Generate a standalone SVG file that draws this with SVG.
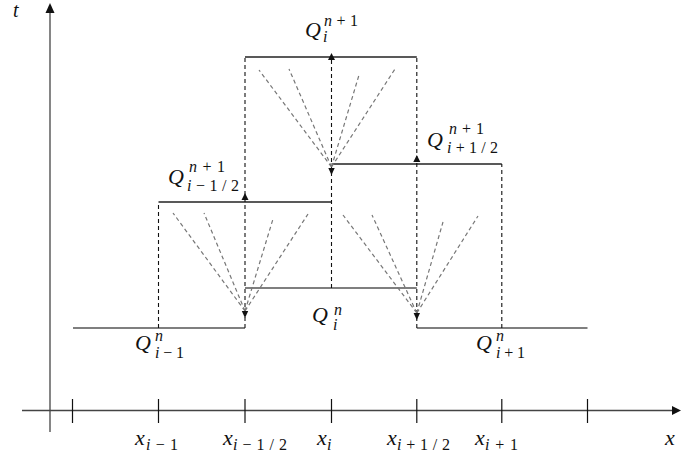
<svg xmlns="http://www.w3.org/2000/svg" width="681" height="457" viewBox="0 0 681 457" font-family="'Liberation Serif', 'DejaVu Serif', serif">
<defs>
<style>
.ax{stroke:#444;stroke-width:1.3;fill:none}
.tk{stroke:#111;stroke-width:1.2}
.lvn{stroke:#555;stroke-width:1.3}
.lv1{stroke:#222;stroke-width:1.3}
.dv{stroke:#111;stroke-width:1.1;stroke-dasharray:4 3;fill:none}
.fan{stroke:#777;stroke-width:1.2;stroke-dasharray:4 3;fill:none}
.ah{fill:#111}
.m{font-size:22px;font-style:italic;fill:#111}
.s{font-size:16px;fill:#111}
.it{font-style:italic}
</style>
</defs>
<rect width="681" height="457" fill="#fff"/>
<g id="axes">
<line class="ax" x1="50" y1="432" x2="50" y2="10"/>
<polygon class="ah" points="50,3 45.5,13 54.5,13" fill="#222"/>
<line class="ax" x1="22" y1="410.5" x2="674" y2="410.5"/>
<polygon class="ah" points="681,410.5 672,406 672,415" fill="#222"/>
<g class="tk">
<line x1="72.5" y1="399" x2="72.5" y2="423"/>
<line x1="158.5" y1="399" x2="158.5" y2="423"/>
<line x1="245" y1="399" x2="245" y2="423"/>
<line x1="331.5" y1="399" x2="331.5" y2="423"/>
<line x1="416.8" y1="399" x2="416.8" y2="423"/>
<line x1="501.8" y1="399" x2="501.8" y2="423"/>
<line x1="587.5" y1="399" x2="587.5" y2="423"/>
</g>
</g>
<g id="levels">
<line class="lvn" x1="73" y1="328" x2="245" y2="328"/>
<line class="lvn" x1="245" y1="288" x2="416.8" y2="288"/>
<line class="lvn" x1="416.8" y1="328" x2="587.5" y2="328"/>
<line class="lv1" x1="158.5" y1="202" x2="331.5" y2="202"/>
<line class="lv1" x1="331.5" y1="164" x2="501.8" y2="164"/>
<line class="lv1" x1="245" y1="57" x2="416.8" y2="57"/>
</g>
<g id="connectors">
<line class="dv" x1="158.5" y1="328" x2="158.5" y2="202"/>
<line class="dv" x1="245" y1="328" x2="245" y2="57"/>
<line class="dv" x1="331.5" y1="288" x2="331.5" y2="57"/>
<line class="dv" x1="416.8" y1="328" x2="416.8" y2="57"/>
<line class="dv" x1="501.8" y1="328" x2="501.8" y2="164"/>
<path class="fan" d="M245,311L173,213M245,311L204,213M245,311L273,219M245,311L308,214"/>
<path class="fan" d="M416.8,313L343,215M416.8,313L372,215M416.8,313L443,222M416.8,313L478,216"/>
<path class="fan" d="M331.5,167L259,70M331.5,167L289,69M331.5,167L359,75M331.5,167L395,69"/>
<polygon class="ah" points="245,193 241.5,200 248.5,200"/>
<polygon class="ah" points="331.5,53 328,60 335,60"/>
<polygon class="ah" points="416.8,155 413.3,162 420.3,162"/>
<polygon class="ah" points="245,318 241.8,311 248.2,311"/>
<polygon class="ah" points="331.5,175 328.3,168 334.7,168"/>
<polygon class="ah" points="416.8,320 413.6,313 420,313"/>
</g>
<g id="label-t"><text class="m" x="13" y="17" style="font-size:20px">t</text></g>
<g id="label-Qi-n1">
<text class="m" x="305" y="37">Q</text>
<text class="s" x="324" y="26" textLength="34" lengthAdjust="spacing"><tspan class="it">n</tspan>+1</text>
<text class="s it" x="323" y="42">i</text>
</g>
<g id="label-Qim-half">
<text class="m" x="168" y="184">Q</text>
<text class="s" x="189" y="172" textLength="36" lengthAdjust="spacing"><tspan class="it">n</tspan>+1</text>
<text class="s" x="187" y="191" textLength="52" lengthAdjust="spacing"><tspan class="it">i</tspan>−1/2</text>
</g>
<g id="label-Qip-half">
<text class="m" x="427" y="147">Q</text>
<text class="s" x="449" y="134" textLength="35" lengthAdjust="spacing"><tspan class="it">n</tspan>+1</text>
<text class="s" x="447" y="153" textLength="51" lengthAdjust="spacing"><tspan class="it">i</tspan>+1/2</text>
</g>
<g id="label-Qim1">
<text class="m" x="135" y="350">Q</text>
<text class="s it" x="155" y="341">n</text>
<text class="s" x="155" y="358" textLength="29" lengthAdjust="spacing"><tspan class="it">i</tspan>−1</text>
</g>
<g id="label-Qi">
<text class="m" x="312" y="322">Q</text>
<text class="s it" x="334" y="315">n</text>
<text class="s it" x="333" y="330">i</text>
</g>
<g id="label-Qip1">
<text class="m" x="476" y="350">Q</text>
<text class="s it" x="496" y="341">n</text>
<text class="s" x="496" y="358" textLength="29" lengthAdjust="spacing"><tspan class="it">i</tspan>+1</text>
</g>
<g id="xlabels">
<text class="m" x="135" y="445">x</text><text class="s" x="146" y="450" textLength="32" lengthAdjust="spacing"><tspan class="it">i</tspan>−1</text>
<text class="m" x="223" y="445">x</text><text class="s" x="233" y="450" textLength="54" lengthAdjust="spacing"><tspan class="it">i</tspan>−1/2</text>
<text class="m" x="317" y="445">x</text><text class="s it" x="327" y="450">i</text>
<text class="m" x="387" y="445">x</text><text class="s" x="397" y="450" textLength="53" lengthAdjust="spacing"><tspan class="it">i</tspan>+1/2</text>
<text class="m" x="475" y="445">x</text><text class="s" x="485" y="450" textLength="33" lengthAdjust="spacing"><tspan class="it">i</tspan>+1</text>
<text class="m" x="665" y="445">x</text>
</g>
</svg>
